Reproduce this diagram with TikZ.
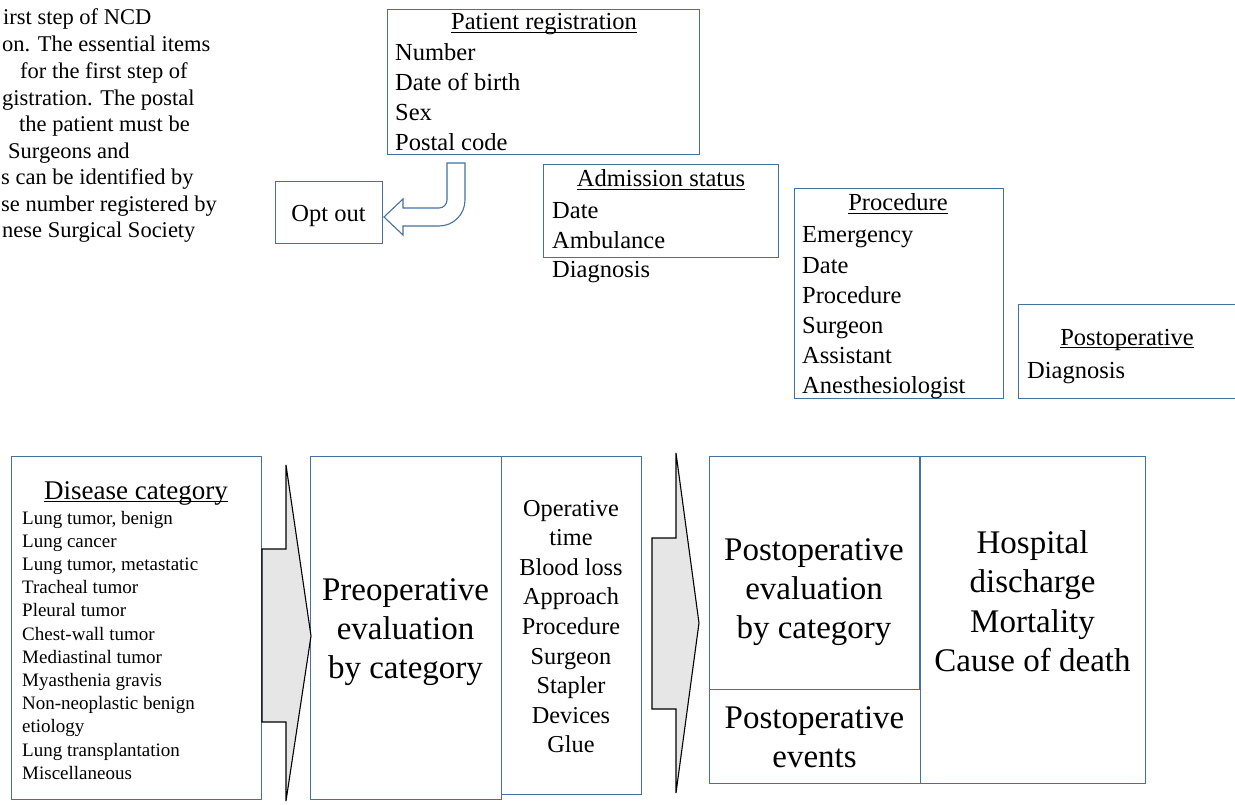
\documentclass[tikz,border=0pt]{standalone}
\usepackage{fontspec}
\setmainfont{Liberation Serif}
\definecolor{boxblue}{RGB}{68,114,160}
\definecolor{arrowgray}{RGB}{230,230,230}
\newcommand{\myul}[1]{\setbox0\hbox{#1}\rlap{\rule[-3.4pt]{\wd0}{1.5pt}}\box0}
\begin{document}
\begin{tikzpicture}[x=1pt,y=-1pt,
  box/.style={draw=boxblue,line width=1.2pt,fill=white,inner sep=0pt,anchor=north west},
  lt/.style={inner sep=0pt,anchor=base west},
  ct/.style={inner sep=0pt,anchor=base},
  capf/.style={font=\fontsize{22.5}{27}\selectfont},
  topf/.style={font=\fontsize{24.5}{29}\selectfont},
  smallf/.style={font=\fontsize{19}{23}\selectfont},
  midf/.style={font=\fontsize{24.3}{29}\selectfont},
  bigf/.style={font=\fontsize{33}{39}\selectfont},
  titlef/.style={font=\fontsize{27}{32}\selectfont},
  blockarrow/.style={draw=black,line width=1.1pt,fill=arrowgray,line join=miter},
  uturn/.style={draw=boxblue,line width=1.1pt,fill=white}
]
\clip (0,0) rectangle (1235,805);
\fill[white] (0,0) rectangle (1235,805);

% caption fragment (cut at the left edge in the reference)
\node[lt,capf] (c1) at (3,25) {irst step of NCD};
\node[lt,capf] (c2) at (2,52) {on. The essential items};
\node[lt,capf] (c3) at (20,79) {for the first step of};
\node[lt,capf] (c4) at (2,106) {gistration. The postal};
\node[lt,capf] (c5) at (19,132) {the patient must be};
\node[lt,capf] (c6) at (8,159) {Surgeons and};
\node[lt,capf] (c7) at (1,185) {s can be identified by};
\node[lt,capf] (c8) at (1,212) {se number registered by};
\node[lt,capf] (c9) at (2,238) {nese Surgical Society};

% top boxes
\node[box,minimum width=312pt,minimum height=145pt] (reg) at (387,9) {};
\node[box,minimum width=235pt,minimum height=93pt] (adm) at (543,164) {};
\node[box,minimum width=209pt,minimum height=210pt] (proc) at (794,188) {};
\node[box,minimum width=240pt,minimum height=94pt] (post) at (1018,304) {};
\node[box,minimum width=107pt,minimum height=62pt] (opt) at (275,181) {};

\node[ct,topf] (regt) at (544,30) {\myul{Patient registration}};
\foreach \t [count=\i] in {Number, Date of birth, Sex, Postal code}
  \node[lt,topf] (reg\i) at (395,{61+30*(\i-1)}) {\t};

\node[ct,topf] (admt) at (661,187) {\myul{Admission status}};
\foreach \t [count=\i] in {Date, Ambulance, Diagnosis}
  \node[lt,topf] (adm\i) at (552,{219+29.5*(\i-1)}) {\t};

\node[ct,topf] (proct) at (898,211) {\myul{Procedure}};
\foreach \t [count=\i] in {Emergency, Date, Procedure, Surgeon, Assistant, Anesthesiologist}
  \node[lt,topf] (proc\i) at (802,{243+30*(\i-1)}) {\t};

\node[ct,topf] (postt) at (1127,345) {\myul{Postoperative}};
\node[lt,topf] (post1) at (1027,378) {Diagnosis};

\node[ct,topf] (optt) at (328.5,222) {Opt out};

% U-turn arrow from registration to opt out
\draw[uturn] (447,163) -- (465,163) -- (465,200)
  .. controls (465,214.4) and (453.4,226) .. (439,226)
  -- (403,226) -- (403,235) -- (384,217) -- (403,199) -- (403,208) -- (439,208)
  .. controls (443.4,208) and (447,204.4) .. (447,200) -- cycle;

% bottom boxes
\node[box,minimum width=250pt,minimum height=343pt] (dis) at (11,456) {};
\node[box,minimum width=191pt,minimum height=343pt] (pre) at (310,456) {};
\node[box,minimum width=140pt,minimum height=338pt] (oper) at (501,456) {};
\node[box,minimum width=210pt,minimum height=233pt] (peval) at (709,456) {};
\node[box,minimum width=211pt,minimum height=94pt] (pev) at (709,689) {};
\node[box,minimum width=225pt,minimum height=327pt] (hosp) at (920,456) {};

\node[ct,titlef] (dist) at (136,499) {\myul{Disease category}};
\foreach \t [count=\i] in {{Lung tumor, benign}, Lung cancer, {Lung tumor, metastatic}, Tracheal tumor, Pleural tumor, Chest-wall tumor, Mediastinal tumor, Myasthenia gravis, Non-neoplastic benign, etiology, Lung transplantation, Miscellaneous}
  \node[lt,smallf] (dis\i) at (22,{524+23.2*(\i-1)}) {\t};

\foreach \t [count=\i] in {Preoperative, evaluation, by category}
  \node[ct,bigf] (pre\i) at (405.5,{600+39*(\i-1)}) {\t};

\foreach \t [count=\i] in {Operative, time, Blood loss, Approach, Procedure, Surgeon, Stapler, Devices, Glue}
  \node[ct,midf] (oper\i) at (571,{516+29.6*(\i-1)}) {\t};

\foreach \t [count=\i] in {Postoperative, evaluation, by category}
  \node[ct,bigf] (peval\i) at (814,{560+39*(\i-1)}) {\t};

\foreach \t [count=\i] in {Postoperative, events}
  \node[ct,bigf] (pev\i) at (814.5,{728+39*(\i-1)}) {\t};

\foreach \t [count=\i] in {Hospital, discharge, Mortality, Cause of death}
  \node[ct,bigf] (hosp\i) at (1032.5,{553+39.5*(\i-1)}) {\t};

% block arrows
\draw[blockarrow] (262,549) -- (286,549) -- (286,465) -- (311,636) -- (286,801) -- (286,722) -- (262,722) -- cycle;
\draw[blockarrow] (652,538) -- (676,538) -- (676,453) -- (699,623) -- (676,793) -- (676,709) -- (652,709) -- cycle;
\end{tikzpicture}
\end{document}
